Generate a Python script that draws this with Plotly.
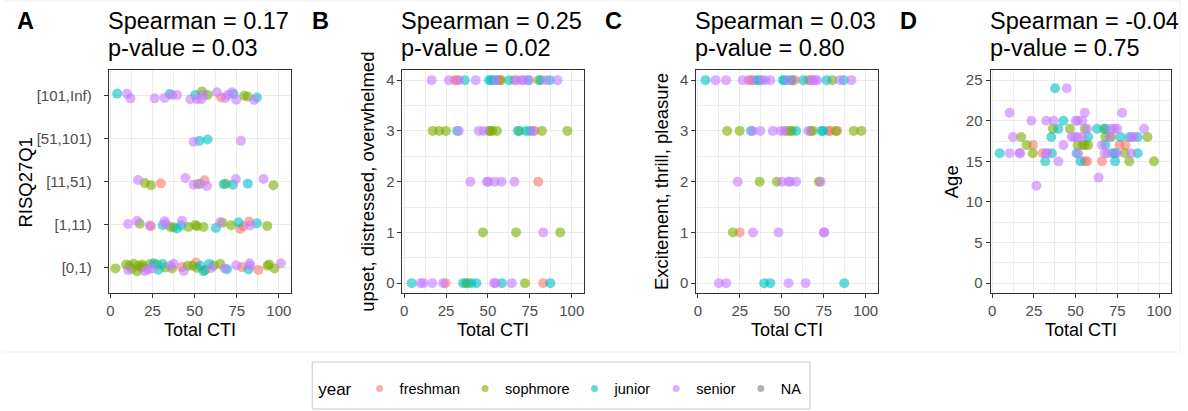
import plotly.graph_objects as go

W, H = 1188, 411

YEAR_NAMES = {"F": "freshman", "G": "sophmore", "J": "junior", "S": "senior", "N": "NA"}
YEAR_ORDER = ["F", "G", "J", "S", "N"]
COLORS = {"F": "#F8766D", "G": "#7CAE00", "J": "#00BFC4", "S": "#C77CFF", "N": "#7F7F7F"}

# ---------------- Panel A: RISQ27Q1 (jittered categories) ----------------
A_levels = ["[0,1)", "[1,11)", "[11,51)", "[51,101)", "[101,Inf)"]
A_cti = [4.0, 9.9, 11.9, 26.3, 32.2, 35.2, 36.6, 39.5, 47.4, 50.4, 51.4, 54, 54.3, 55.3, 57.7,
         63.2, 65.8, 68.2, 69.8, 72.1, 73.1, 74.7, 79.4, 81.6, 85.4, 87,
         49.4, 52.8, 57.7, 77.5,
         16.4, 20.4, 24.1, 30, 44.5, 49.4, 52, 53.4, 55.9, 57.3, 67.2, 68.6, 72.7, 74.5, 81.6, 90.9, 96.8,
         10.5, 15.8, 17.4, 23.3, 24.1, 31, 32.2, 33, 35.6, 37.5, 39.5, 42.1, 42.5, 46.4, 50.4, 51.4,
         55.3, 62.6, 65.2, 66.6, 71.7, 76.1, 77.1, 79, 82.4, 83, 87, 93.1,
         3, 9.3, 10.5, 11.3, 13.8, 15.8, 16.8, 17.8, 18.8, 20.4, 22.3, 23.7, 24.7, 25.7, 27.7, 31,
         32.6, 35.6, 36.6, 37.5, 42.5, 43.5, 46, 48.8, 50.8, 51.4, 53.4, 55.3, 56.3, 58.7, 59.9,
         61.3, 65.2, 67.8, 69.2, 74.7, 78.1, 82, 82.6, 83, 87.9, 93.3, 94.3, 97.4, 101.2,
         12.5, 19.5, 28.5]
A_cat = (["[101,Inf)"] * 26 + ["[51,101)"] * 4 + ["[11,51)"] * 17 + ["[1,11)"] * 28
         + ["[0,1)"] * 45 + ["[0,1)"] * 3)
A_jit = [0.05, 0.05, -0.06, -0.06, -0.05, 0.04, 0.02, 0.02, -0.08, 0.02, -0.08, -0.08, 0.1, 0.02, 0.02,
         0.08, -0.04, -0.05, 0.02, 0.08, 0.04, -0.09, 0.0, -0.02, -0.1, -0.04,
         -0.07, -0.05, -0.02, -0.05,
         0.04, -0.03, -0.085, -0.04, 0.085, -0.07, -0.055, -0.055, 0.03, -0.1, -0.06, -0.05, -0.07, 0.06,
         -0.05, 0.06, -0.085,
         0.015, 0.09, 0.02, -0.02, -0.04, -0.015, 0.08, 0.015, -0.055, -0.06, -0.09, -0.02, 0.09, -0.055,
         -0.01, -0.04, -0.055, -0.08, 0.06, 0.04, -0.015, 0.055, -0.1, -0.04, 0.07, -0.02, 0.03, -0.03,
         -0.02, 0.07, -0.06, 0.04, 0.09, -0.085, 0.04, 0.0, 0.07, -0.085, -0.045, 0.085, -0.02, 0.1, 0.07,
         0.08, 0.0, 0.04, -0.02, 0.09, 0.015, -0.08, 0.04, 0.04, 0.115, -0.01, 0.04, -0.085, -0.055, 0.085,
         -0.01, 0.04, 0.085, -0.02, -0.04, 0.055, 0.01, -0.045, 0.1, 0.04, -0.055, 0.04, 0.07, -0.02, 0.1,
         -0.03, 0.02, -0.05]
A_year = list("JSSSSJSSSJSSGSGSFSSSJSGGSJ" + "SJJS" + "SGGFSSGSFSJGJSJSG"
              + "SSGSFJSSGGJJSGGGGJSGGJFFFSJG"
              + "GGSGGGGFGSSGSJGJGSGSFSGGFGJJGJSGGSJSFJSSFGGGS" + "GGJ")

# ---------------- Panel B: upset, distressed, overwhelmed ----------------
B_cti = [16.4, 26.7, 30.2, 31.6, 32.8, 36.2, 42.7, 50.6, 52, 53.5, 54.9, 55.9, 56.9, 57.9, 62.8, 65.8,
         66.8, 69.8, 71.1, 73.7, 74.7, 80.2, 81.6, 84.6, 87, 91.5,
         17, 20.9, 24.9, 31.6, 32.6, 44.5, 47.4, 50.6, 51.4, 52.6, 55.3, 67.8, 68.8, 72.7, 75.1, 76.7,
         77.7, 82.2, 97.4,
         39.5, 49.4, 50.2, 54, 58.1, 65.8, 80,
         47, 66.8, 83, 93.1,
         4.5, 9.9, 11.5, 16.8, 23.3, 24.7, 35.2, 36.8, 38.1, 40.1, 43.1, 53.6, 54.5, 58.3, 64.2, 72.1, 83, 87.2]
B_val = [4] * 26 + [3] * 19 + [2] * 7 + [1] * 4 + [0] * 18
B_year = list("SSFFSJSJJJSFFGJFSSSJSGJSJS" + "GGGJSSSGGGGJGJJSFGG" + "SSSSSSF" + "GGSG"
              + "JSSSSFJGGJJSSJSGFJ")

# ---------------- Panel C: Excitement, thrill, pleasure ----------------
C_cti = [4.5, 10.5, 16.8, 26.7, 30.2, 31.6, 32.8, 35.2, 36.8, 38.1, 40.1, 43.1, 50.6, 51.6, 54, 55.3,
         56.5, 57.5, 62.8, 65.8, 67.2, 68.4, 69.8, 71.1, 76.7, 80.2, 84.6, 87, 91.5,
         17.4, 24.9, 31.6, 32.6, 37.2, 44.7, 49.4, 51.4, 53, 54.9, 55.9, 58.5, 65.8, 67.2, 68.4, 73.7,
         74.7, 77.7, 79, 82.2, 83, 92.9, 97.4,
         23.7, 36.8, 47, 50, 54, 55, 58.5, 72.1, 73.1,
         20.8, 24.9, 32.8, 48, 75.1, 75.3,
         12.5, 16.8, 39.5, 43.1, 54, 64.2, 87.2]
C_val = [4] * 29 + [3] * 23 + [2] * 9 + [1] * 6 + [0] * 7
C_year = list("JSSSFSFJJSSSJJSJFFJFFSSSJGSJS" + "GGJSSSSSGGGJSGGJJFFGFGG" + "SGGSSSSGS" + "GFSSSS"
              + "SSJJSSJ")

# ---------------- Panel D: Age ----------------
D_cti = [37.7, 44.7, 10.5, 55.5, 77.9, 23.5, 32.4, 36.8, 42.7, 50, 51.2, 54,
         36.4, 39.7, 46.6, 55.5, 56.9, 62.8, 67, 68, 71.3, 73.3, 74.9, 91.1,
         12.5, 17.4, 35.4, 47.6, 49.2, 51.2, 54, 57.5, 67.8, 70.4, 71.3, 76.9, 82.2, 83.6, 84.8, 87.2, 93.1,
         20.6, 24.5, 42.7, 51.2, 54.2, 55.5, 57.5, 65.8, 67.8, 76.3, 79.8,
         4.5, 10.5, 16.4, 16.8, 24.3, 30.2, 32.2, 33, 35.8, 50.6, 51.6, 67.4, 69.4, 72.3, 73.7, 74.9,
         79.6, 83.2, 87.2,
         31.8, 39.7, 53, 55.5, 56.9, 65.8, 73.7, 82.2, 97,
         63.8, 26.5]
D_age = ([24] * 2 + [21] * 3 + [20] * 7 + [19] * 12 + [18] * 17 + [17] * 11 + [16] * 19
         + [15] * 9 + [13, 12])
D_year = list("JS" + "SSS" + "SSSJSSS" + "GJGGSJGJSSSS" + "SGJSSSSJGSGJJSSJG" + "GFSGGGGSJFF"
              + "JSSSGFSSJJSSSJJSGSJ" + "JSJFFFJGG" + "SS")

SPEARMAN = ["Spearman = 0.17", "Spearman = 0.25", "Spearman = 0.03", "Spearman = -0.04"]
PVALUE = ["p-value = 0.03", "p-value = 0.02", "p-value = 0.80", "p-value = 0.75"]
LETTERS = ["A", "B", "C", "D"]
Y_TITLES = ["RISQ27Q1", "upset, distressed, overwhelmed", "Excitement, thrill, pleasure", "Age"]
X_TITLE = "Total CTI"

# ---------------- layout geometry (pixels) ----------------
panel_left = [106, 400.5, 695, 990]
panel_right = [288.7, 582.3, 877, 1171]
p_top, p_bot = 70, 293.3
ytitle_x = [23, 366, 660, 951]
letter_x = [12, 308, 602, 897]

def xp(px):
    return px / W

def yp(py):
    return 1 - py / H

FONT = "Liberation Sans, Arial, Helvetica, sans-serif"
TITLE_SIZE = 23.5

fig = go.Figure()

panels = [
    (A_cti, [A_levels.index(c) + j for c, j in zip(A_cat, A_jit)], A_year),
    (B_cti, B_val, B_year),
    (C_cti, C_val, C_year),
    (D_cti, D_age, D_year),
]

for i, (xs, ys, yrs) in enumerate(panels):
    ax = "" if i == 0 else str(i + 1)
    for code in YEAR_ORDER:
        px_ = [x for x, c in zip(xs, yrs) if c == code]
        py_ = [y for y, c in zip(ys, yrs) if c == code]
        if not px_:
            continue
        fig.add_trace(go.Scatter(
            x=px_, y=py_, mode="markers", xaxis="x" + ax, yaxis="y" + ax,
            marker=dict(size=10, color=COLORS[code], opacity=0.6, line=dict(width=0)),
            showlegend=False, hoverinfo="skip"))

# legend-only traces
for code in YEAR_ORDER:
    fig.add_trace(go.Scatter(
        x=[None], y=[None], mode="markers", name=YEAR_NAMES[code],
        marker=dict(size=7, color=COLORS[code], opacity=0.6, line=dict(width=0)),
        showlegend=True))

axis_common = dict(
    showline=True, mirror=True, linecolor="#333333", linewidth=1,
    ticks="outside", ticklen=4, tickwidth=1, tickcolor="#333333",
    tickfont=dict(family=FONT, size=15, color="#4D4D4D"),
    showgrid=True, gridcolor="#EBEBEB", gridwidth=1.4, zeroline=False,
)
minor_grid = dict(showgrid=True, gridcolor="#EDEDED", gridwidth=0.8, ticks="")

y_ranges = [[-0.6, 4.6], [-0.2, 4.2], [-0.2, 4.2], [-1.25, 26.25]]
layout = {}
for i in range(4):
    ax = "" if i == 0 else str(i + 1)
    layout["xaxis" + ax] = dict(
        axis_common, domain=[xp(panel_left[i]), xp(panel_right[i])], anchor="y" + ax,
        range=[-1, 107.2], tickvals=[0, 25, 50, 75, 100],
        minor=dict(minor_grid, dtick=12.5, tick0=0))
    ydict = dict(axis_common, domain=[yp(p_bot), yp(p_top)], anchor="x" + ax, range=y_ranges[i])
    if i == 0:
        ydict.update(tickvals=list(range(len(A_levels))), ticktext=A_levels, ticklabelstandoff=9)
    elif i in (1, 2):
        ydict.update(dtick=1, tick0=0, minor=dict(minor_grid, dtick=0.5, tick0=0))
    else:
        ydict.update(dtick=5, tick0=0, minor=dict(minor_grid, dtick=2.5, tick0=0))
    layout["yaxis" + ax] = ydict

annotations = []
for i in range(4):
    for txt, base in ((SPEARMAN[i], 28), (PVALUE[i], 55)):
        annotations.append(dict(
            text=txt, x=xp(panel_left[i] - 3), y=yp(base - 0.3 * TITLE_SIZE), xref="paper", yref="paper",
            xanchor="left", yanchor="middle", align="left", showarrow=False,
            font=dict(family=FONT, size=TITLE_SIZE, color="#000000")))
    annotations.append(dict(
        text="<b>" + LETTERS[i] + "</b>", x=xp(letter_x[i]), y=yp(28 - 0.3 * TITLE_SIZE),
        xref="paper", yref="paper", xanchor="left", yanchor="middle", showarrow=False,
        font=dict(family=FONT, size=TITLE_SIZE, color="#000000")))
    annotations.append(dict(
        text=X_TITLE, x=xp((panel_left[i] + panel_right[i]) / 2), y=yp(330), xref="paper", yref="paper",
        xanchor="center", yanchor="middle", showarrow=False,
        font=dict(family=FONT, size=18, color="#000000")))
    annotations.append(dict(
        text=Y_TITLES[i], x=xp(ytitle_x[i]), y=yp((p_top + p_bot) / 2), xref="paper", yref="paper",
        xanchor="center", yanchor="middle", textangle=-90, showarrow=False,
        font=dict(family=FONT, size=18.5, color="#000000")))

shapes = [
    dict(type="rect", xref="paper", yref="paper", x0=xp(310), x1=xp(809), y0=yp(409), y1=yp(362),
         line=dict(color="#C8C8C8", width=1), fillcolor="rgba(0,0,0,0)", layer="below"),
    dict(type="line", xref="paper", yref="paper", x0=0, x1=xp(1180), y0=yp(1), y1=yp(1),
         line=dict(color="#EFEFEF", width=1)),
    dict(type="line", xref="paper", yref="paper", x0=0, x1=xp(1180), y0=yp(352), y1=yp(352),
         line=dict(color="#EFEFEF", width=1)),
    dict(type="line", xref="paper", yref="paper", x0=xp(1180), x1=xp(1180), y0=yp(1), y1=yp(352),
         line=dict(color="#EFEFEF", width=1)),
]

fig.update_layout(
    width=W, height=H, margin=dict(l=0, r=0, t=0, b=0),
    paper_bgcolor="white", plot_bgcolor="white",
    annotations=annotations, shapes=shapes,
    legend=dict(orientation="h", x=xp(314), xanchor="left", y=yp(389), yanchor="middle",
                bgcolor="rgba(0,0,0,0)", borderwidth=0,
                title=dict(text="year", font=dict(family=FONT, size=17, color="#000000")),
                font=dict(family=FONT, size=14.5, color="#000000")),
    **layout,
)

fig.write_html("out.html")
